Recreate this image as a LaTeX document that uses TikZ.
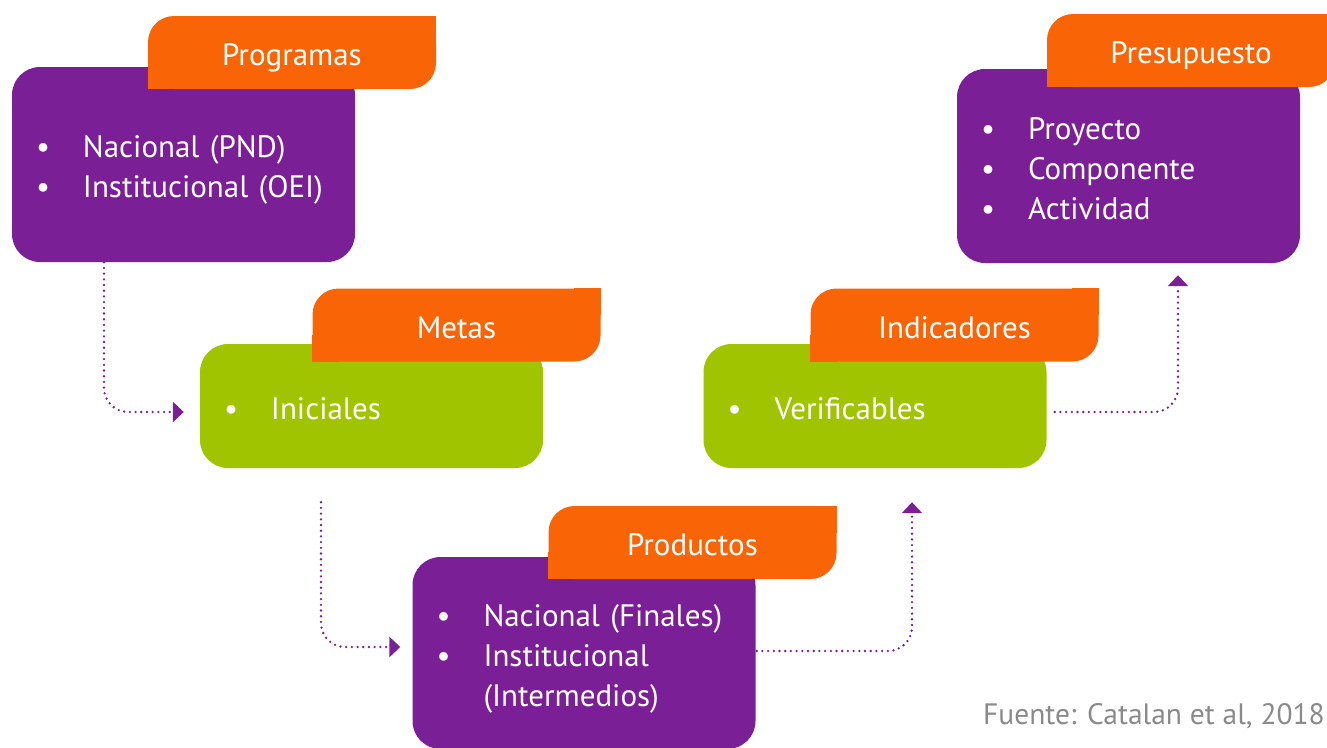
\documentclass[tikz,border=0pt]{standalone}
\usepackage{fontspec}
\setmainfont{PT Sans}
\usepackage{tikz}
\usetikzlibrary{positioning, arrows.meta}
\definecolor{morado}{RGB}{123,31,150}
\definecolor{verde}{RGB}{160,196,0}
\definecolor{naranja}{RGB}{249,101,6}
\definecolor{gris}{RGB}{138,138,138}
\newcommand{\lstrut}{\rule[-9pt]{0pt}{44pt}}
\newcommand{\itm}[1]{\makebox[47pt][l]{\textbullet}#1\lstrut}
\tikzset{
    boxnode/.style = {rectangle, rounded corners=28pt, text=white, align=left, text width=295pt,
      inner xsep=24pt, inner ysep=0pt, minimum width=343pt, node distance=0em,
      font={\fontsize{31}{40}\selectfont\lineskiplimit=-40pt}},
    purplebox/.style = {boxnode, fill=morado},
    greenbox/.style = {boxnode, fill=verde},
    tabnode/.style = {rectangle, fill=naranja, rounded corners=26pt, text=white, minimum width=288pt,
      minimum height=73pt, text height=30pt, text depth=4pt, node distance=0em,
      font=\fontsize{31}{36}\selectfont},
    flow/.style = {morado, line width=2.6pt, dash pattern=on 0pt off 5.7pt, line cap=round,
      rounded corners=24pt, -{Triangle[width=20pt,length=11pt]}},
    sourcenode/.style = {text=gris, inner sep=0pt, font=\fontsize{29.5}{34}\selectfont}
}

\begin{document}
\begin{tikzpicture}[x=1pt, y=-1pt]
    \useasboundingbox (0,0) rectangle (1327,747);

    \node [name=prog, purplebox, minimum height=195pt] at (183.5,164.5)
        {\itm{Nacional (PND)}\\\itm{Institucional (OEI)}};
    \node [name=tprog, tabnode, right of = prog, xshift=108.5pt, yshift=112pt] {Programas};
    \fill [naranja] (tprog.south west) rectangle ++(27pt,27pt);
    \fill [naranja] (tprog.north east) rectangle ++(-27pt,-27pt);

    \node [name=metas, greenbox, minimum height=124pt] at (371.5,406) {\itm{Iniciales}};
    \node [name=tmetas, tabnode, right of = metas, xshift=85pt, yshift=81pt] {Metas};
    \fill [naranja] (tmetas.south west) rectangle ++(27pt,27pt);
    \fill [naranja] (tmetas.north east) rectangle ++(-27pt,-27pt);

    \node [name=indic, greenbox, minimum height=124pt] at (875,406) {\itm{Verificables}};
    \node [name=tindic, tabnode, right of = indic, xshift=79.5pt, yshift=81pt] {Indicadores};
    \fill [naranja] (tindic.south west) rectangle ++(27pt,27pt);
    \fill [naranja] (tindic.north east) rectangle ++(-27pt,-27pt);

    \node [name=presu, purplebox, minimum height=194pt] at (1128.5,166)
        {\itm{Proyecto}\\\itm{Componente}\\\itm{Actividad}};
    \node [name=tpresu, tabnode, right of = presu, xshift=62.5pt, yshift=115.5pt] {Presupuesto};
    \fill [naranja] (tpresu.south west) rectangle ++(27pt,27pt);
    \fill [naranja] (tpresu.north east) rectangle ++(-27pt,-27pt);

    \node [name=prod, purplebox, minimum height=192pt] at (584,653)
        {\itm{Nacional (Finales)}\\\itm{Institucional}\\\hspace*{47pt}(Intermedios)\lstrut};
    \node [name=tprod, tabnode, right of = prod, xshift=108.5pt, yshift=110.5pt] {Productos};
    \fill [naranja] (tprod.south west) rectangle ++(27pt,27pt);
    \fill [naranja] (tprod.north east) rectangle ++(-27pt,-27pt);

    % dotted connectors
    \draw [flow, shorten >=16pt] ([xshift=-79.5pt]prog.south) |- ([yshift=-6pt]metas.west);
    \draw [flow, shorten <=34pt, shorten >=12pt] ([xshift=-50.5pt]metas.south) |- ([yshift=6pt]prod.west);
    \draw [flow, shorten <=1pt, shorten >=34pt] ([yshift=2pt]prod.east) -| ([xshift=37pt]indic.south);
    \draw [flow, shorten <=8pt, shorten >=12pt] ([yshift=-6pt]indic.east) -| ([xshift=49.5pt]presu.south);

    \node [name=src, sourcenode, anchor=east] at (1325,716) {Fuente: Catalan et al, 2018};
\end{tikzpicture}
\end{document}
